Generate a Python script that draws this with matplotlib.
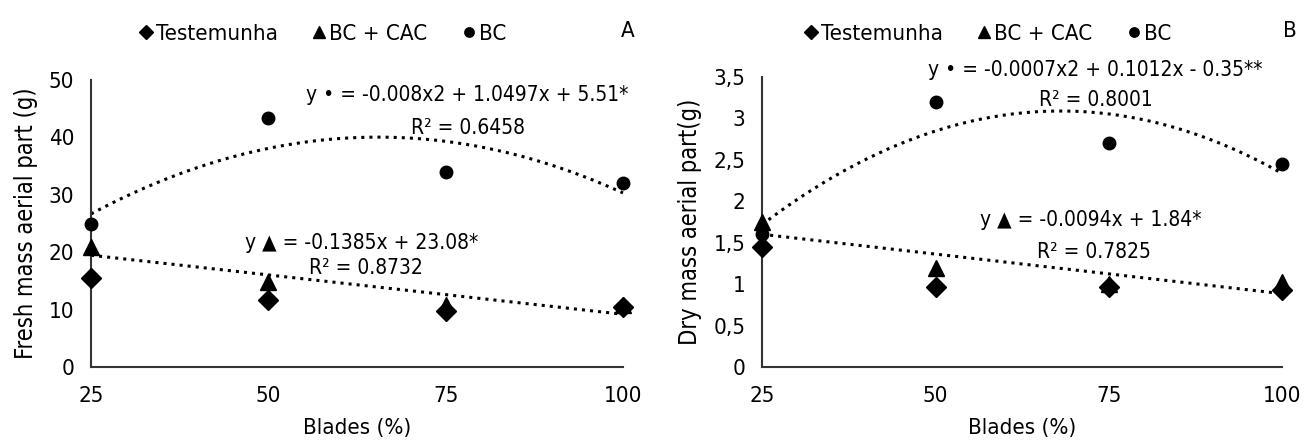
import matplotlib
matplotlib.use('Agg')
import matplotlib.pyplot as plt
import numpy as np

plt.rcParams['font.family'] = ['Liberation Sans Narrow', 'DejaVu Sans']
plt.rcParams['font.stretch'] = 'condensed'

blades = [25, 50, 75, 100]

# Panel A - fresh mass
fresh_test = [15.5, 11.7, 9.8, 10.5]
fresh_bccac = [20.9, 14.8, 10.8, 10.8]
fresh_bc = [24.9, 43.4, 34.0, 32.1]

# Panel B - dry mass
dry_test = [1.45, 0.97, 0.96, 0.93]
dry_bccac = [1.75, 1.2, 1.0, 1.02]
dry_bc = [1.6, 3.2, 2.7, 2.45]

fig = plt.figure(figsize=(13.06, 4.47), dpi=100)
axA = fig.add_axes([0.0697, 0.179, 0.4073, 0.642])
axB = fig.add_axes([0.5835, 0.179, 0.3985, 0.649])


def draw_panel(ax, test, bccac, bc, ylim, yticks, yticklabels, ylabel):
    x = np.array(blades, dtype=float)
    xx = np.linspace(25, 100, 200)
    # trendlines (fitted to the points, like excel does)
    q = np.polyfit(x, bc, 2)
    ax.plot(xx, np.polyval(q, xx), ':', color='black', lw=2.2, zorder=2)
    l = np.polyfit(x, bccac, 1)
    ax.plot(xx, np.polyval(l, xx), ':', color='black', lw=2.2, zorder=2)

    ax.plot(x, test, 'D', color='black', markersize=10, ls='none', label='Testemunha', zorder=3)
    ax.plot(x, bccac, '^', color='black', markersize=11, ls='none', label='BC + CAC', zorder=3)
    ax.plot(x, bc, 'o', color='black', markersize=9, ls='none', label='BC', zorder=3)

    ax.set_xlim(25, 100)
    ax.set_ylim(*ylim)
    ax.set_xticks(blades)
    ax.set_yticks(yticks)
    ax.set_yticklabels(yticklabels)
    ax.tick_params(length=0, labelsize=16, pad=12)
    ax.tick_params(axis='x', pad=14)
    ax.spines['top'].set_visible(False)
    ax.spines['right'].set_visible(False)
    for s in ['left', 'bottom']:
        ax.spines[s].set_linewidth(1.5)
        ax.spines[s].set_color('#333333')
    ax.set_xlabel('Blades (%)', fontsize=16, labelpad=8)
    ax.set_ylabel(ylabel, fontsize=17, labelpad=8)
    for ln in ax.lines:
        ln.set_clip_on(False)


draw_panel(axA, fresh_test, fresh_bccac, fresh_bc, (0, 50),
           [0, 10, 20, 30, 40, 50], ['0', '10', '20', '30', '40', '50'],
           'Fresh mass aerial part (g)')
draw_panel(axB, dry_test, dry_bccac, dry_bc, (0, 3.5),
           [0, 0.5, 1, 1.5, 2, 2.5, 3, 3.5],
           ['0', '0,5', '1', '1,5', '2', '2,5', '3', '3,5'],
           'Dry mass aerial part(g)')

# legends
for ax, xc in [(axA, 0.246), (axB, 0.755)]:
    fig.legend(handles=ax.lines[2:], loc='center', bbox_to_anchor=(xc, 0.925),
               ncol=3, frameon=False, fontsize=16, handletextpad=0.0,
               columnspacing=1.4, handlelength=0.9, markerscale=0.75)

fig.text(0.481, 0.93, 'A', fontsize=16, ha='center', va='center')
fig.text(0.988, 0.93, 'B', fontsize=16, ha='center', va='center')

# equations
fs = 15
fig.text(0.358, 0.787, 'y \u2022 = -0.008x2 + 1.0497x + 5.51*', fontsize=fs, ha='center', va='center')
fig.text(0.358, 0.713, 'R\u00b2 = 0.6458', fontsize=fs, ha='center', va='center')
fig.text(0.277, 0.457, 'y \u25B2 = -0.1385x + 23.08*', fontsize=fs, ha='center', va='center')
fig.text(0.280, 0.400, 'R\u00b2 = 0.8732', fontsize=fs, ha='center', va='center')

fig.text(0.839, 0.843, 'y \u2022 = -0.0007x2 + 0.1012x - 0.35**', fontsize=fs, ha='center', va='center')
fig.text(0.839, 0.776, 'R\u00b2 = 0.8001', fontsize=fs, ha='center', va='center')
fig.text(0.835, 0.508, 'y \u25B2 = -0.0094x + 1.84*', fontsize=fs, ha='center', va='center')
fig.text(0.838, 0.436, 'R\u00b2 = 0.7825', fontsize=fs, ha='center', va='center')

fig.savefig('out.png', dpi=100)
